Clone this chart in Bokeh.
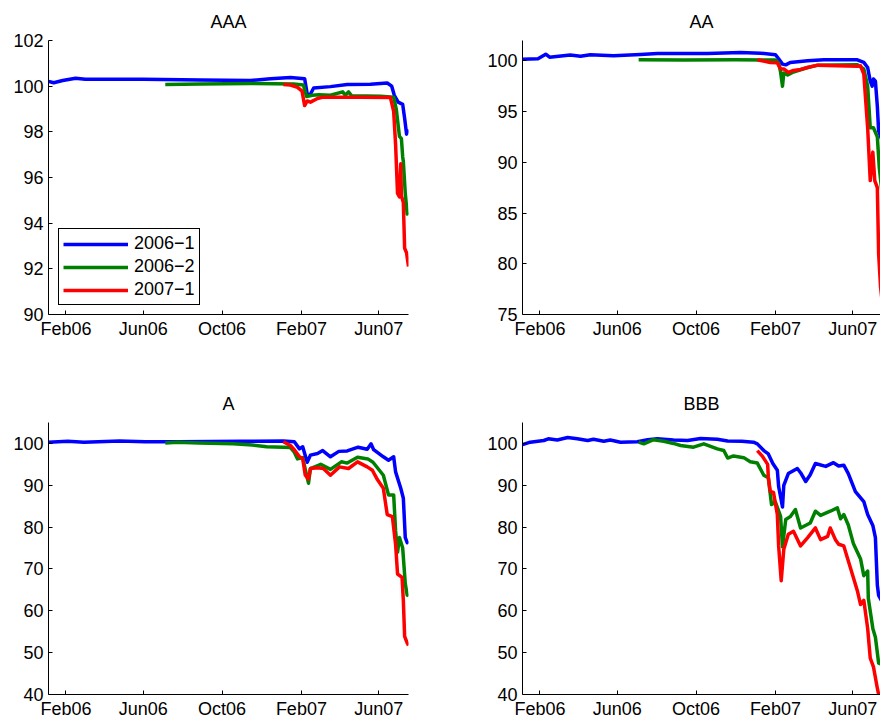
import pandas as pd
from bokeh.plotting import figure
from bokeh.layouts import column, row
from bokeh.models import Range1d, FixedTicker, DatetimeTickFormatter
from bokeh.embed import file_html
from bokeh.resources import INLINE

FONT = "Liberation Sans"
COLORS = {"2006−1": "#0000ff", "2006−2": "#008000", "2007−1": "#ff0000"}
SERIES_NAMES = ["2006−1", "2006−2", "2007−1"]

X_START = "2006-01-05"
X_END = "2007-07-17"
TICK_DATES = ["2006-02-01", "2006-06-01", "2006-10-01", "2007-02-01", "2007-06-01"]

# ---------------- AAA ----------------
AAA_1_DATES = ["2006-01-05", "2006-01-13", "2006-01-27", "2006-02-16", "2006-03-03", "2006-06-01",
               "2006-08-29", "2006-11-14", "2006-12-15", "2007-01-15", "2007-02-06", "2007-02-10",
               "2007-02-14", "2007-02-20", "2007-03-18", "2007-04-13", "2007-05-19", "2007-06-14",
               "2007-06-21", "2007-06-25", "2007-07-01", "2007-07-08", "2007-07-11", "2007-07-14",
               "2007-07-17"]
AAA_1_VALUES = [100.21, 100.15, 100.25, 100.35, 100.30, 100.30, 100.27, 100.25, 100.32, 100.38,
                100.33, 99.65, 99.60, 99.92, 99.98, 100.07, 100.08, 100.14, 100.00, 99.60, 99.30,
                99.20, 98.60, 97.90, 98.10]
AAA_2_DATES = ["2006-07-05", "2006-08-29", "2006-11-14", "2007-01-20", "2007-02-04", "2007-02-09",
               "2007-02-18", "2007-02-28", "2007-03-18", "2007-04-06", "2007-04-10", "2007-04-15",
               "2007-04-20", "2007-06-04", "2007-06-24", "2007-06-28", "2007-07-03", "2007-07-06",
               "2007-07-08", "2007-07-09", "2007-07-12", "2007-07-15", "2007-07-17"]
AAA_2_VALUES = [100.07, 100.10, 100.12, 100.10, 100.05, 99.55, 99.60, 99.62, 99.60, 99.75, 99.60,
                99.75, 99.58, 99.56, 99.52, 99.00, 97.80, 97.70, 96.90, 96.70, 95.30, 94.40, 94.50]
AAA_3_DATES = ["2007-01-04", "2007-01-15", "2007-01-26", "2007-02-02", "2007-02-06", "2007-02-10",
               "2007-02-15", "2007-02-26", "2007-03-07", "2007-05-04", "2007-06-19", "2007-06-24",
               "2007-06-27", "2007-06-30", "2007-07-03", "2007-07-05", "2007-07-06", "2007-07-09",
               "2007-07-11", "2007-07-14", "2007-07-15", "2007-07-17"]
AAA_3_VALUES = [100.07, 100.05, 99.95, 99.78, 99.15, 99.35, 99.30, 99.46, 99.52, 99.52, 99.50,
                98.90, 97.45, 95.30, 95.15, 96.60, 95.20, 94.90, 92.90, 92.70, 92.50, 92.10]

# ---------------- AA ----------------
AA_1_DATES = ["2006-01-05", "2006-01-29", "2006-02-10", "2006-02-16", "2006-03-20", "2006-04-05",
              "2006-04-20", "2006-05-26", "2006-07-07", "2006-08-02", "2006-10-19", "2006-12-09",
              "2007-01-09", "2007-02-01", "2007-02-06", "2007-02-12", "2007-02-17", "2007-02-24",
              "2007-03-23", "2007-04-17", "2007-06-08", "2007-06-18", "2007-06-24", "2007-06-28",
              "2007-07-01", "2007-07-03", "2007-07-06", "2007-07-09", "2007-07-11", "2007-07-17"]
AA_1_VALUES = [100.16, 100.20, 100.65, 100.35, 100.56, 100.45, 100.60, 100.50, 100.63, 100.72,
               100.72, 100.82, 100.75, 100.60, 100.20, 99.67, 99.60, 99.84, 100.00, 100.10, 100.10,
               99.84, 99.34, 98.00, 97.50, 98.20, 98.00, 95.50, 93.10, 92.00]
AA_2_DATES = ["2006-07-04", "2006-09-12", "2006-12-01", "2007-02-01", "2007-02-06", "2007-02-09",
              "2007-02-12", "2007-02-14", "2007-02-20", "2007-03-01", "2007-03-23", "2007-04-07",
              "2007-06-08", "2007-06-18", "2007-06-24", "2007-06-28", "2007-07-03", "2007-07-09",
              "2007-07-12", "2007-07-17"]
AA_2_VALUES = [100.10, 100.08, 100.10, 100.08, 99.80, 98.90, 97.50, 98.80, 98.60, 98.90, 99.34,
               99.55, 99.60, 99.20, 97.50, 93.40, 93.40, 92.50, 89.50, 86.50]
AA_3_DATES = ["2007-01-04", "2007-01-24", "2007-02-04", "2007-02-09", "2007-02-14", "2007-02-21",
              "2007-03-01", "2007-03-12", "2007-03-23", "2007-04-07", "2007-06-08", "2007-06-13",
              "2007-06-18", "2007-06-24", "2007-06-28", "2007-07-02", "2007-07-05", "2007-07-09",
              "2007-07-11", "2007-07-14", "2007-07-17"]
AA_3_VALUES = [100.10, 99.84, 99.80, 99.20, 99.20, 98.85, 99.05, 99.15, 99.34, 99.57, 99.47, 99.50,
               98.70, 93.40, 88.20, 91.00, 88.20, 87.50, 81.00, 77.70, 76.00]

# ---------------- A ----------------
A_1_DATES = ["2006-01-05", "2006-02-04", "2006-03-01", "2006-04-25", "2006-06-04", "2006-07-24",
             "2006-09-12", "2006-11-01", "2007-01-04", "2007-01-21", "2007-01-29", "2007-02-03",
             "2007-02-10", "2007-02-15", "2007-02-26", "2007-03-06", "2007-03-18", "2007-03-31",
             "2007-04-13", "2007-04-30", "2007-05-14", "2007-05-20", "2007-05-24", "2007-06-08",
             "2007-06-16", "2007-06-24", "2007-06-27", "2007-07-05", "2007-07-09", "2007-07-12",
             "2007-07-15", "2007-07-17"]
A_1_VALUES = [100.30, 100.50, 100.30, 100.55, 100.40, 100.40, 100.45, 100.50, 100.60, 100.40,
              98.70, 99.20, 95.50, 97.20, 97.60, 98.30, 96.80, 98.10, 98.20, 99.10, 98.60, 99.90,
              98.50, 96.80, 96.00, 96.80, 93.20, 89.30, 86.90, 77.50, 76.30, 76.70]
A_2_DATES = ["2006-07-05", "2006-07-24", "2006-08-26", "2006-10-18", "2006-11-17", "2006-12-09",
             "2007-01-04", "2007-01-15", "2007-01-21", "2007-01-26", "2007-02-03", "2007-02-07",
             "2007-02-12", "2007-02-15", "2007-03-03", "2007-03-18", "2007-04-04", "2007-04-13",
             "2007-04-29", "2007-05-15", "2007-05-23", "2007-06-08", "2007-06-16", "2007-06-24",
             "2007-06-27", "2007-06-30", "2007-07-03", "2007-07-08", "2007-07-12", "2007-07-15",
             "2007-07-17"]
A_2_VALUES = [100.10, 100.30, 100.10, 99.90, 99.60, 99.20, 99.10, 99.00, 97.90, 96.30, 96.60,
              93.80, 90.50, 94.00, 95.00, 93.80, 95.60, 95.30, 96.70, 96.30, 95.50, 92.40, 87.70,
              87.70, 79.10, 74.00, 77.50, 75.00, 66.50, 63.70, 64.00]
A_3_DATES = ["2007-01-04", "2007-01-15", "2007-01-21", "2007-01-29", "2007-02-03", "2007-02-07",
             "2007-02-12", "2007-02-15", "2007-02-26", "2007-03-07", "2007-03-18", "2007-04-01",
             "2007-04-15", "2007-04-29", "2007-05-14", "2007-05-22", "2007-05-30", "2007-06-08",
             "2007-06-14", "2007-06-22", "2007-06-27", "2007-06-30", "2007-07-07", "2007-07-09",
             "2007-07-11", "2007-07-15", "2007-07-17"]
A_3_VALUES = [100.40, 99.50, 98.50, 96.80, 96.40, 92.40, 91.50, 94.00, 94.20, 94.00, 92.40, 94.40,
              94.00, 95.60, 94.40, 93.60, 91.30, 89.30, 83.00, 82.50, 75.90, 68.80, 68.00, 62.50,
              53.90, 52.30, 51.70]

# ---------------- BBB ----------------
BBB_1_DATES = ["2006-01-05", "2006-01-17", "2006-02-07", "2006-02-14", "2006-02-28", "2006-03-16",
               "2006-03-31", "2006-04-16", "2006-04-25", "2006-05-11", "2006-05-21", "2006-06-06",
               "2006-07-02", "2006-07-18", "2006-08-02", "2006-08-27", "2006-09-18", "2006-10-08",
               "2006-11-03", "2006-11-19", "2006-12-11", "2006-12-29", "2007-01-04", "2007-01-14",
               "2007-01-21", "2007-01-28", "2007-02-04", "2007-02-06", "2007-02-12", "2007-02-14",
               "2007-02-21", "2007-03-07", "2007-03-12", "2007-03-20", "2007-03-27", "2007-04-04",
               "2007-04-20", "2007-05-02", "2007-05-10", "2007-05-18", "2007-05-25", "2007-06-05",
               "2007-06-18", "2007-06-24", "2007-07-02", "2007-07-06", "2007-07-09", "2007-07-11",
               "2007-07-17"]
BBB_1_VALUES = [99.70, 100.30, 100.70, 101.10, 100.80, 101.40, 101.10, 100.70, 101.00, 100.50,
                100.80, 100.30, 100.40, 100.90, 101.10, 100.80, 100.70, 101.20, 101.00, 100.60,
                100.50, 100.30, 99.90, 98.30, 97.50, 95.20, 93.60, 89.70, 84.80, 90.00, 92.80,
                94.00, 93.00, 90.90, 92.50, 95.20, 94.50, 95.40, 94.60, 94.80, 92.80, 88.50, 86.10,
                83.00, 80.40, 77.50, 66.10, 63.70, 62.00]
BBB_2_DATES = ["2006-07-04", "2006-07-12", "2006-07-27", "2006-08-12", "2006-08-27", "2006-09-07",
               "2006-09-27", "2006-10-13", "2006-11-03", "2006-11-13", "2006-11-19", "2006-11-28",
               "2006-12-14", "2006-12-24", "2007-01-04", "2007-01-14", "2007-01-21", "2007-01-26",
               "2007-02-01", "2007-02-09", "2007-02-12", "2007-02-17", "2007-02-24", "2007-03-04",
               "2007-03-12", "2007-03-27", "2007-04-04", "2007-04-12", "2007-04-27", "2007-05-08",
               "2007-05-13", "2007-05-18", "2007-05-25", "2007-06-02", "2007-06-13", "2007-06-18",
               "2007-06-24", "2007-06-25", "2007-07-02", "2007-07-06", "2007-07-11", "2007-07-17"]
BBB_2_VALUES = [100.30, 99.90, 100.90, 100.50, 100.00, 99.50, 99.10, 99.90, 98.70, 98.30, 96.50,
                97.00, 96.60, 95.60, 95.30, 92.40, 91.80, 85.40, 86.00, 82.60, 75.30, 81.80, 82.50,
                84.20, 79.80, 81.00, 83.80, 82.80, 83.80, 84.60, 82.00, 83.00, 80.50, 76.00, 72.40,
                68.40, 69.50, 63.00, 55.80, 53.70, 47.50, 47.20]
BBB_3_DATES = ["2007-01-04", "2007-01-12", "2007-01-20", "2007-01-21", "2007-01-24", "2007-01-29",
               "2007-02-04", "2007-02-06", "2007-02-10", "2007-02-14", "2007-02-21", "2007-03-01",
               "2007-03-12", "2007-03-23", "2007-04-04", "2007-04-12", "2007-04-23", "2007-04-27",
               "2007-05-05", "2007-05-10", "2007-05-18", "2007-05-28", "2007-06-08", "2007-06-13",
               "2007-06-18", "2007-06-24", "2007-06-28", "2007-07-03", "2007-07-09", "2007-07-11",
               "2007-07-17"]
BBB_3_VALUES = [98.30, 96.90, 95.00, 92.00, 88.50, 88.30, 83.00, 75.50, 67.20, 74.70, 78.30, 79.00,
                75.50, 77.50, 79.80, 77.00, 77.80, 79.80, 77.00, 75.90, 75.50, 70.40, 64.80, 61.50,
                62.50, 55.80, 48.70, 46.60, 41.50, 40.00, 37.00]

PANELS = [
    ("AAA", (90, 102), [90, 92, 94, 96, 98, 100, 102],
     [(AAA_1_DATES, AAA_1_VALUES), (AAA_2_DATES, AAA_2_VALUES), (AAA_3_DATES, AAA_3_VALUES)]),
    ("AA", (75, 102), [75, 80, 85, 90, 95, 100],
     [(AA_1_DATES, AA_1_VALUES), (AA_2_DATES, AA_2_VALUES), (AA_3_DATES, AA_3_VALUES)]),
    ("A", (40, 105), [40, 50, 60, 70, 80, 90, 100],
     [(A_1_DATES, A_1_VALUES), (A_2_DATES, A_2_VALUES), (A_3_DATES, A_3_VALUES)]),
    ("BBB", (40, 105), [40, 50, 60, 70, 80, 90, 100],
     [(BBB_1_DATES, BBB_1_VALUES), (BBB_2_DATES, BBB_2_VALUES), (BBB_3_DATES, BBB_3_VALUES)]),
]

start = pd.Timestamp(X_START)
end = pd.Timestamp(X_END)
span = end - start
LEFT_FRAME = 360
RIGHT_FRAME = 358
tick_ms = [pd.Timestamp(d).value // 10**6 for d in TICK_DATES]
fmt_keys = ["microseconds", "milliseconds", "seconds", "minsec", "minutes", "hourmin",
            "hours", "days", "months", "years"]


def make_panel(idx, title, yr, yticks, series):
    left = idx % 2 == 0
    top = idx < 2
    x_end = end if left else start + span * (RIGHT_FRAME / LEFT_FRAME)
    p = figure(
        width=440,
        height=370 if top else 351,
        x_axis_type="datetime",
        x_range=Range1d(start, x_end),
        y_range=Range1d(*yr),
        output_backend="svg",
        toolbar_location=None,
        min_border_left=48 if left else 82,
        min_border_right=32 if left else 0,
        min_border_top=39 if top else 52,
        min_border_bottom=56 if top else 24,
    )
    p.outline_line_color = None
    p.grid.visible = False
    p.background_fill_color = "white"
    p.border_fill_color = "white"

    p.title.text = title
    p.title.align = "center"
    p.title.text_font = FONT
    p.title.text_font_size = "18px"
    p.title.text_font_style = "normal"
    p.title.text_color = "black"
    p.title.standoff = 18

    for ax in (p.xaxis[0], p.yaxis[0]):
        ax.axis_line_color = "black"
        ax.axis_line_width = 1
        ax.major_tick_line_color = "black"
        ax.major_tick_in = 4
        ax.major_tick_out = 0
        ax.minor_tick_in = 0
        ax.minor_tick_out = 0
        ax.minor_tick_line_color = None
        ax.major_label_text_font = FONT
        ax.major_label_text_font_size = "18px"
        ax.major_label_text_color = "black"
    p.xaxis[0].ticker = FixedTicker(ticks=tick_ms)
    p.xaxis[0].formatter = DatetimeTickFormatter(**{k: "%b%y" for k in fmt_keys})
    p.xaxis[0].major_label_standoff = 4
    p.yaxis[0].ticker = FixedTicker(ticks=yticks)
    p.yaxis[0].major_label_standoff = 5

    for name, (dates, vals) in zip(SERIES_NAMES, series):
        kw = dict(legend_label=name) if idx == 0 else {}
        p.line(pd.to_datetime(dates), vals, line_color=COLORS[name], line_width=3.5,
               line_join="round", **kw)

    if idx == 0:
        lg = p.legend[0]
        lg.location = (10, 9)
        lg.margin = 0
        lg.padding = 4
        lg.spacing = 2
        lg.glyph_width = 65
        lg.glyph_height = 18
        lg.label_height = 18
        lg.label_standoff = 6
        lg.label_text_font = FONT
        lg.label_text_font_size = "18px"
        lg.label_text_color = "black"
        lg.border_line_color = "black"
        lg.border_line_width = 1
        lg.border_line_alpha = 1
        lg.background_fill_color = "white"
        lg.background_fill_alpha = 1
    return p


figs = [make_panel(i, *panel) for i, panel in enumerate(PANELS)]
layout = column(row(figs[0], figs[1]), row(figs[2], figs[3]))

open("out.html", "w").write(file_html(layout, INLINE))
